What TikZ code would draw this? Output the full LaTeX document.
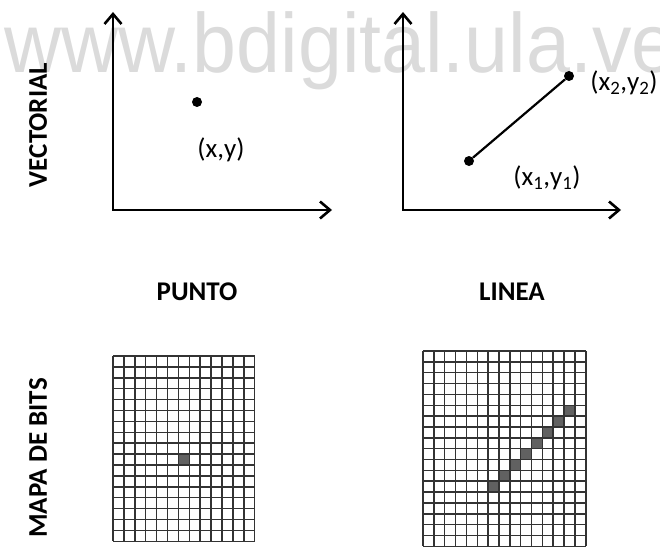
\documentclass[tikz,border=0pt]{standalone}
\usepackage{fontspec}
\setmainfont{Carlito}
\newfontfamily\wmfont[FakeStretch=0.94]{Liberation Sans}
\usetikzlibrary{arrows.meta}

\begin{document}
\begin{tikzpicture}[x=1pt,y=-1pt,
axis line/.style={{Straight Barb[length=10pt,width=17pt]}-{Straight Barb[length=10pt,width=17pt]},line width=2.6pt},
vec line/.style={line width=2.2pt},
dot/.style={circle,fill=black,inner sep=0pt,minimum size=10pt},
coord label/.style={inner sep=0pt,font=\fontsize{27}{30}\selectfont},
title label/.style={inner sep=0pt,font=\fontsize{27}{30}\selectfont\bfseries},
pixel grid/.style={line width=1.5pt,draw=black!80},
pixel on/.style={fill=black!62}]
\useasboundingbox (0,0) rectangle (660,548);
% marca de agua
\node[anchor=base west,inner sep=0pt,text=black!14,font=\wmfont\fontsize{84}{90}\selectfont] (wm) at (4,73) {www.bdigital.ula.ve};
% vectorial
\coordinate (o1) at (113,210);
\coordinate (y1) at (113,12);
\coordinate (x1) at (332,210);
\draw[axis line] (y1) -- (o1) -- (x1);
\coordinate (o2) at (403,210);
\coordinate (y2) at (403,12);
\coordinate (x2) at (621,210);
\draw[axis line] (y2) -- (o2) -- (x2);
\node[dot] (pt) at (197,102) {};
\node[coord label] (ptlabel) at (221,150) {(x,y)};
\node[dot] (p1) at (469,161) {};
\node[dot] (p2) at (569,76) {};
\draw[vec line] (p1) -- (p2);
\node[coord label] (p1label) at (547,178) {(x\textsubscript{1},y\textsubscript{1})};
\node[coord label] (p2label) at (624,83) {(x\textsubscript{2},y\textsubscript{2})};
% titulos
\node[title label,rotate=90] (vec) at (38,125) {VECTORIAL};
\node[title label,rotate=90] (bits) at (38,458) {MAPA DE BITS};
\node[title label] (punto) at (197,292) {PUNTO};
\node[title label] (linea) at (512,292) {LINEA};
% mapa de bits
\begin{scope}[shift={(113,356)},x=10.9pt,y=-10.9pt]
\fill[pixel on] (6,9) rectangle (7,10);
\foreach \i in {0,...,13} \draw[pixel grid] (\i,0) -- (\i,17);
\foreach \j in {0,...,17} \draw[pixel grid] (0,\j) -- (13,\j);
\end{scope}
\begin{scope}[shift={(423,351)},x=10.85pt,y=-10.85pt]
\foreach \k in {0,...,7} \fill[pixel on] (6+\k,12-\k) rectangle (7+\k,13-\k);
\foreach \i in {0,...,15} \draw[pixel grid] (\i,0) -- (\i,18);
\foreach \j in {0,...,18} \draw[pixel grid] (0,\j) -- (15,\j);
\end{scope}
\end{tikzpicture}
\end{document}
